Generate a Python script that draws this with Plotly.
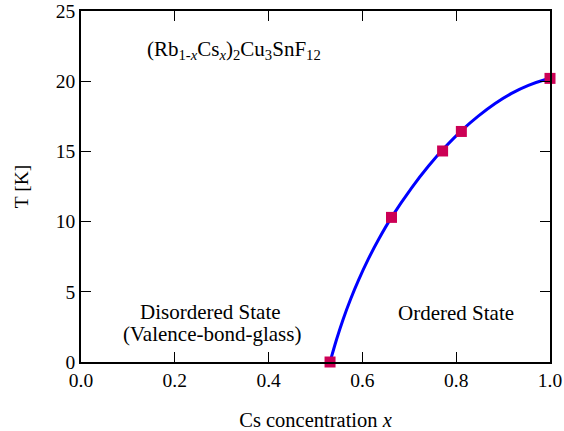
import plotly.graph_objects as go

# Measured transition temperatures
cs_conc = [0.531, 0.662, 0.771, 0.811, 1.0]
t_order = [0.0, 10.3, 15.03, 16.42, 20.2]

# Guide-to-the-eye phase boundary
boundary_x = [0.531, 0.545, 0.559, 0.575, 0.592, 0.612, 0.635, 0.662, 0.705,
              0.741, 0.776, 0.812, 0.847, 0.883, 0.918, 0.954, 0.989, 1.015]
boundary_t = [0.0, 1.62, 3.05, 4.49, 5.85, 7.29, 8.76, 10.3, 12.41,
              13.96, 15.29, 16.5, 17.51, 18.41, 19.13, 19.7, 20.1, 20.3]

x_ticks = [0.0, 0.2, 0.4, 0.6, 0.8, 1.0]
x_tick_text = ["0.0", "0.2", "0.4", "0.6", "0.8", "1.0"]
y_ticks = [0, 5, 10, 15, 20, 25]

FONT = "Liberation Serif"

fig = go.Figure()
fig.add_trace(go.Scatter(
    x=boundary_x, y=boundary_t, mode="lines",
    line=dict(color="#0000FF", width=3, shape="spline", smoothing=1.0),
    cliponaxis=False, hoverinfo="skip", showlegend=False,
))
fig.add_trace(go.Scatter(
    x=cs_conc, y=t_order, mode="markers",
    marker=dict(symbol="square", size=11, color="#CC0055", line=dict(width=0)),
    cliponaxis=False, showlegend=False,
))

axis_common = dict(
    showline=True, linecolor="black", linewidth=1.5, mirror="ticks",
    ticks="inside", ticklen=10, tickwidth=1.2, tickcolor="black",
    showgrid=False, zeroline=False, automargin=False,
    tickfont=dict(family=FONT, size=19.5, color="black"),
)

fig.update_xaxes(
    range=[0, 1], tickvals=x_ticks, ticktext=x_tick_text,
    title=dict(text="Cs concentration <i>x</i>", standoff=22,
               font=dict(family=FONT, size=20.5, color="black")),
    **axis_common,
)
fig.update_yaxes(
    range=[0, 25], tickvals=y_ticks,
    title=dict(text="T [K]", standoff=22,
               font=dict(family=FONT, size=19.5, color="black")),
    **axis_common,
)

annot_font = dict(family=FONT, size=21, color="black")
fig.add_annotation(
    x=0.327, y=22.2, xref="x", yref="y", showarrow=False, font=annot_font,
    text="(Rb<sub>1-<i>x</i></sub>Cs<sub><i>x</i></sub>)<sub>2</sub>Cu<sub>3</sub>SnF<sub>12</sub>",
)
fig.add_annotation(
    x=0.277, y=3.58, xref="x", yref="y", showarrow=False, font=annot_font,
    text="Disordered State",
)
fig.add_annotation(
    x=0.279, y=2.02, xref="x", yref="y", showarrow=False, font=annot_font,
    text="(Valence-bond-glass)",
)
fig.add_annotation(
    x=0.80, y=3.5, xref="x", yref="y", showarrow=False, font=annot_font,
    text="Ordered State",
)

fig.update_layout(
    width=564, height=431,
    margin=dict(l=81, r=14, t=11, b=69),
    paper_bgcolor="white", plot_bgcolor="white",
    font=dict(family=FONT, color="black"),
)

fig.write_html("out.html")
